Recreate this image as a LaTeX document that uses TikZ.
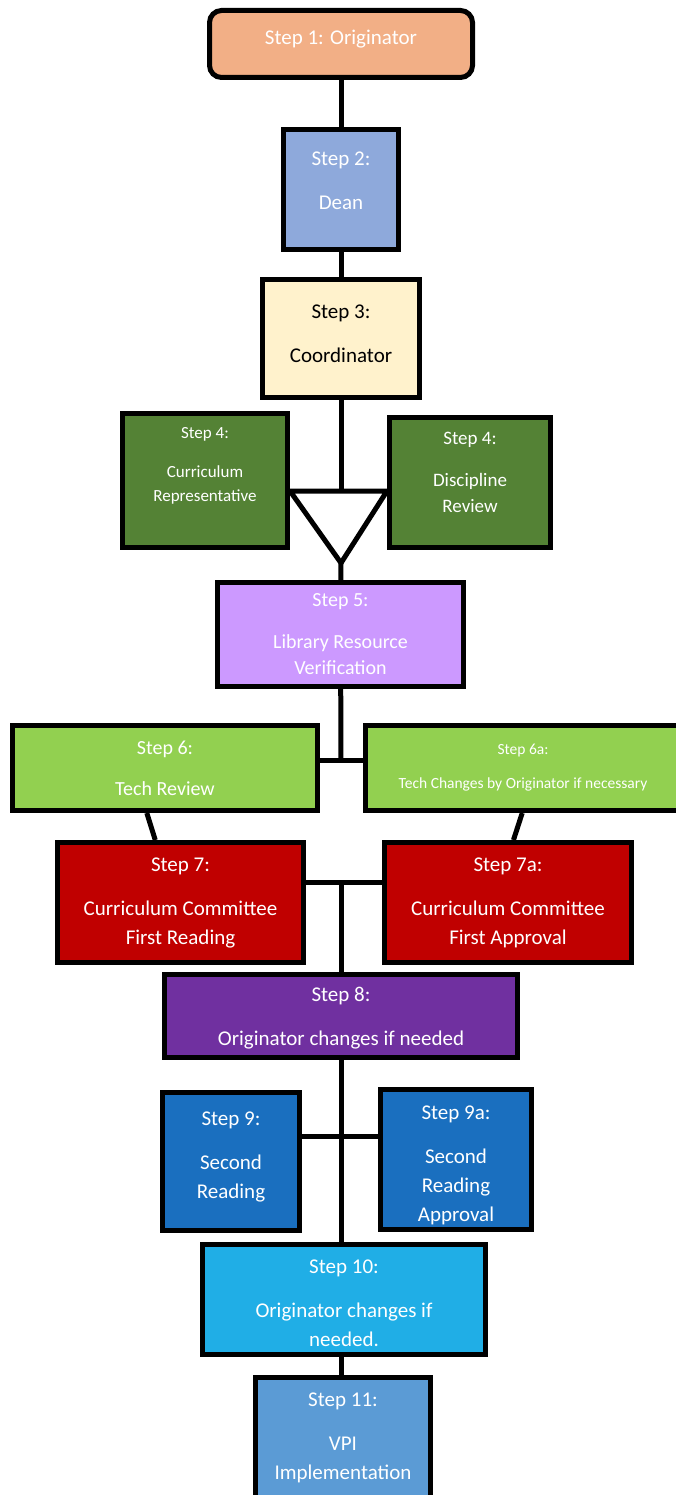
\documentclass[tikz,border=0pt]{standalone}
\usepackage{fontspec}
\setmainfont{Carlito}
\definecolor{peach}{HTML}{F2AF86}
\definecolor{deanblue}{HTML}{8EA9DB}
\definecolor{cream}{HTML}{FFF2CC}
\definecolor{darkgreen}{HTML}{548235}
\definecolor{lilac}{HTML}{CC99FF}
\definecolor{lightgreen}{HTML}{92D050}
\definecolor{darkred}{HTML}{C00000}
\definecolor{purple}{HTML}{7030A0}
\definecolor{royal}{HTML}{1A6FBF}
\definecolor{sky}{HTML}{20AEE6}
\definecolor{steel}{HTML}{5B9BD5}
\tikzset{
	stepbox/.style={draw=black, line width=5pt, rectangle, align=center, text=white, inner sep=2pt, font=\fontsize{21}{29}\selectfont},
	link/.style={line width=5pt}
}

\begin{document}
\begin{tikzpicture}[x=1pt,y=-1pt]
		\useasboundingbox (0,0) rectangle (676,1495);
		\clip (0,0) rectangle (676,1495);

		\draw (341,44) node [stepbox, fill=peach, rounded corners=12pt, minimum width=263pt, minimum height=67pt, text depth=14pt] (1) {Step 1: Originator};
		\draw (341,189.5) node [stepbox, fill=deanblue, minimum width=115pt, minimum height=120pt, text depth=18pt] (2) {Step 2:\\[15pt]Dean};
		\draw (341,338.5) node [stepbox, fill=cream, text=black, minimum width=157pt, minimum height=118pt, text depth=10pt] (3) {Step 3:\\[15pt]Coordinator};
		\draw (205,480.5) node [stepbox, fill=darkgreen, minimum width=165pt, minimum height=134pt, font=\fontsize{17}{24}\selectfont, text depth=32pt] (4l) {Step 4:\\[15pt]Curriculum\\Representative};
		\draw (470,482.5) node [stepbox, fill=darkgreen, minimum width=161pt, minimum height=130pt, font=\fontsize{19}{26}\selectfont, text depth=20pt] (4r) {Step 4:\\[16pt]Discipline\\Review};
		\draw (340.5,634.5) node [stepbox, fill=lilac, minimum width=246pt, minimum height=104pt, font=\fontsize{20}{26}\selectfont] (5) {Step 5:\\[16pt]Library Resource\\Verification};
		\draw (165,768) node [stepbox, fill=lightgreen, minimum width=305pt, minimum height=85pt, font=\fontsize{20}{26}\selectfont] (6) {Step 6:\\[15pt]Tech Review};
		\draw (523,768) node [stepbox, fill=lightgreen, minimum width=315pt, minimum height=85pt, font=\fontsize{15.5}{18}\selectfont] (6a) {Step 6a:\\[16pt]Tech Changes by Originator if necessary};
		\draw (180.5,902.5) node [stepbox, fill=darkred, minimum width=246pt, minimum height=120pt] (7) {Step 7:\\[15pt]Curriculum Committee\\First Reading};
		\draw (508,902.5) node [stepbox, fill=darkred, minimum width=247pt, minimum height=120pt] (7a) {Step 7a:\\[15pt]Curriculum Committee\\First Approval};
		\draw (341,1016) node [stepbox, fill=purple, minimum width=353pt, minimum height=83pt] (8) {\rule{0pt}{19pt}Step 8:\\[15pt]Originator changes if needed};
		\draw (231,1161.5) node [stepbox, fill=royal, minimum width=137pt, minimum height=138pt, text depth=13pt] (9) {Step 9:\\[15pt]Second\\Reading};
		\draw (456,1159.5) node [stepbox, fill=royal, minimum width=151pt, minimum height=140pt] (9a) {\rule{0pt}{25pt}Step 9a:\\[15pt]Second\\Reading\\Approval};
		\draw (344,1299.5) node [stepbox, fill=sky, minimum width=283pt, minimum height=110pt] (10) {\rule{0pt}{22pt}Step 10:\\[15pt]Originator changes if\\needed.};
		\draw (343,1437.5) node [stepbox, fill=steel, minimum width=175pt, minimum height=120pt] (11) {Step 11:\\[15pt]VPI\\Implementation};

		% junctions
		\coordinate (t) at (341,491);
		\coordinate (apex) at (341,563);
		\coordinate (j6) at (341,760);
		\coordinate (j7) at (341,882);
		\coordinate (j9) at (341,1136);

		\draw [link] 
		(1) edge (2)
		(2) edge (3)
		(3) edge (t)
		(apex) edge (5)
		(5) edge (j6)
		(j7) edge (8)
		(8) edge (10.north -| j9);
		\draw [link, line join=miter] (4l.east |- t) -- (4r.west |- t) -- (apex) -- cycle;
		\draw [link] (6.east |- j6) -- (6a.west |- j6);
		\draw [link] (6.-112) -- (7.112);
		\draw [link] (6a.-91) -- (7a.85);
		\draw [link] (7.east |- j7) -- (7a.west |- j7);
		\draw [link] (9.east |- j9) -- (9a.west |- j9);
		\draw [link] (10.south -| j9) -- (11.north -| j9);
	\end{tikzpicture}
\end{document}
